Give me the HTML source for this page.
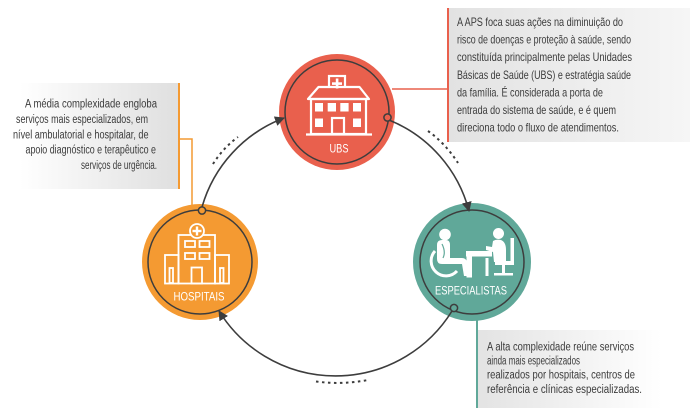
<!DOCTYPE html>
<html><head><meta charset="utf-8"><style>
html,body{margin:0;padding:0;background:#fff;}
svg{display:block;}
.t{font-family:"Liberation Sans Narrow","Liberation Sans",sans-serif;fill:#3b3b3b;}
.w{font-family:"Liberation Sans Narrow","Liberation Sans",sans-serif;fill:#fff;}
</style></head><body>
<svg width="690" height="415" viewBox="0 0 690 415" xmlns="http://www.w3.org/2000/svg">
<defs>
<linearGradient id="gTR" x1="0" y1="0" x2="1" y2="0"><stop offset="0" stop-color="#e2e2e2"/><stop offset="1" stop-color="#f6f6f6"/></linearGradient>
<linearGradient id="gL" x1="0" y1="0" x2="1" y2="0"><stop offset="0" stop-color="#ffffff"/><stop offset="1" stop-color="#dfdfdf"/></linearGradient>
<linearGradient id="gBR" x1="0" y1="0" x2="1" y2="0"><stop offset="0" stop-color="#e3e3e3"/><stop offset="1" stop-color="#ffffff"/></linearGradient>
<marker id="ah" viewBox="0 0 10 10" refX="9" refY="5" markerWidth="10" markerHeight="10" markerUnits="userSpaceOnUse" orient="auto"><path d="M0,0 L10,5 L0,10 z" fill="#3d3d3d"/></marker>
</defs>

<!-- text boxes -->
<rect x="448" y="8" width="242" height="134" fill="url(#gTR)"/>
<rect x="20" y="83" width="159" height="106" fill="url(#gL)"/>
<rect x="477" y="330" width="185" height="78" fill="url(#gBR)"/>

<!-- connectors to boxes -->
<line x1="392" y1="89" x2="448" y2="89" stroke="#e9604d" stroke-width="1.5"/>
<line x1="448" y1="8" x2="448" y2="142" stroke="#e9604d" stroke-width="2"/>
<line x1="179" y1="83" x2="179" y2="189" stroke="#f49a32" stroke-width="2"/>
<polyline points="179,139 192,139 192,206" fill="none" stroke="#f49a32" stroke-width="1.5"/>
<line x1="477" y1="314" x2="477" y2="408" stroke="#60a899" stroke-width="2"/>

<!-- node circles -->
<circle cx="337" cy="112" r="58" fill="#e9604d"/>
<circle cx="200" cy="262" r="58" fill="#f49a32"/>
<circle cx="472" cy="262" r="59" fill="#60a899"/>
<circle cx="337" cy="112" r="52" fill="none" stroke="#3d3d3d" stroke-width="1.5"/>
<circle cx="200" cy="262" r="52" fill="none" stroke="#3d3d3d" stroke-width="1.5"/>
<circle cx="472" cy="262" r="52" fill="none" stroke="#3d3d3d" stroke-width="1.5"/>

<!-- UBS icon -->
<g fill="none" stroke="#fff" stroke-width="2.2">
<rect x="329" y="76" width="16" height="15" fill="#e9604d"/>
<polygon points="318.5,87 359.5,87 369,99 308,99" fill="#e9604d" stroke-linejoin="round"/>
<rect x="311" y="99" width="55" height="35"/>
<rect x="332" y="118" width="12" height="16"/>
<line x1="306" y1="134.5" x2="372" y2="134.5"/>
</g>
<g fill="#fff">
<rect x="335.8" y="78.5" width="2.6" height="10"/><rect x="332" y="82.3" width="10" height="2.6"/>
<rect x="315" y="103" width="8" height="8.5"/><rect x="327.7" y="103" width="8.3" height="8.5"/>
<rect x="340.3" y="103" width="8.3" height="8.5"/><rect x="353" y="103" width="8" height="8.5"/>
<rect x="315" y="118.5" width="8" height="8.5"/><rect x="353" y="118.5" width="8" height="8.5"/>
</g>
<text class="w" x="339" y="152.5" font-size="11.5" text-anchor="middle" textLength="19" lengthAdjust="spacingAndGlyphs">UBS</text>

<!-- HOSPITAIS icon -->
<g fill="none" stroke="#fff" stroke-width="1.8">
<rect x="178.5" y="235" width="36.5" height="48.5"/>
<rect x="165" y="255" width="13.5" height="28.5"/>
<rect x="215" y="255" width="14" height="28.5"/>
<circle cx="197" cy="231" r="7" fill="#f49a32"/>
<rect x="185" y="241" width="10" height="6"/><rect x="199.5" y="241" width="10" height="6"/>
<rect x="185" y="253" width="10" height="6"/><rect x="199.5" y="253" width="10" height="6"/>
<rect x="191.5" y="267.5" width="10.5" height="16"/>
<rect x="169.5" y="268" width="3.5" height="15"/><rect x="220" y="268" width="3.5" height="15"/>
</g>
<g fill="#fff"><rect x="195.8" y="226.5" width="2.4" height="9"/><rect x="192.5" y="229.8" width="9" height="2.4"/></g>
<text class="w" x="199" y="300.5" font-size="12" text-anchor="middle" textLength="51" lengthAdjust="spacingAndGlyphs">HOSPITAIS</text>

<!-- ESPECIALISTAS icon -->
<g fill="#fff">
<circle cx="445" cy="234.5" r="5.8"/>
<path d="M437,245 Q437,240 442,240 L446,240 Q450,240 450,245 L450,258 L462,258 Q466,258 467,262 L469,276 L464,276 L462,264 L442,264 Q437,264 437,259 Z"/>
<rect x="466" y="251" width="26" height="5.5"/>
<rect x="466.5" y="256" width="5.5" height="21.5"/>
<circle cx="498.5" cy="233.5" r="5.5"/>
<path d="M493,241 Q496,239 501,240 Q506,242 506,250 L506,262 L494,262 L493,252 L486,250 L486,246 L492,247 Z"/>
<rect x="510.5" y="238" width="3.5" height="25"/>
<rect x="495" y="261" width="19" height="4"/>
<rect x="502" y="264" width="3" height="10"/>
<rect x="494" y="273" width="19" height="2.5"/>
<rect x="485.5" y="258" width="3" height="18"/>
</g>
<g fill="none" stroke="#fff" stroke-width="3">
<path d="M435,251 A14,14 0 1 0 457,271"/>
</g>
<path d="M442,244 Q446,252 443,258" fill="none" stroke="#60a899" stroke-width="1.2"/>
<text class="w" x="471" y="294.5" font-size="12" text-anchor="middle" textLength="72" lengthAdjust="spacingAndGlyphs">ESPECIALISTAS</text>

<!-- cycle arcs -->
<g fill="none" stroke="#3d3d3d" stroke-width="1.6">
<path d="M202,207 A135,135 0 0 1 284,118" marker-end="url(#ah)"/>
<path d="M389,120 A135,135 0 0 1 469,211" marker-end="url(#ah)"/>
<path d="M452,311 A137,137 0 0 1 219,311" marker-end="url(#ah)"/>
</g>
<g fill="none" stroke="#3d3d3d" stroke-width="2" stroke-dasharray="2.5 3.5">
<path d="M213,164 Q223,148 238,137"/>
<path d="M428,131 Q445,143 458,163"/>
<path d="M316,381.5 Q342,385 368,380"/>
</g>
<circle cx="202" cy="210.5" r="3.6" fill="#f49a32" stroke="#3d3d3d" stroke-width="1.5"/>
<circle cx="387.5" cy="117.5" r="3.6" fill="#e9604d" stroke="#3d3d3d" stroke-width="1.5"/>
<circle cx="454" cy="308" r="3.6" fill="#60a899" stroke="#3d3d3d" stroke-width="1.5"/>

<!-- top-right text -->
<g class="t" font-size="12">
<text x="457" y="26" textLength="166" lengthAdjust="spacingAndGlyphs">A APS foca suas ações na diminuição do</text>
<text x="457" y="43.6" textLength="174" lengthAdjust="spacingAndGlyphs">risco de doenças e proteção à saúde, sendo</text>
<text x="457" y="61.2" textLength="175" lengthAdjust="spacingAndGlyphs">constituída principalmente pelas Unidades</text>
<text x="457" y="78.8" textLength="174" lengthAdjust="spacingAndGlyphs">Básicas de Saúde (UBS) e estratégia saúde</text>
<text x="457" y="96.4" textLength="146" lengthAdjust="spacingAndGlyphs">da família. É considerada a porta de</text>
<text x="457" y="114" textLength="159" lengthAdjust="spacingAndGlyphs">entrada do sistema de saúde, e é quem</text>
<text x="457" y="131.6" textLength="162" lengthAdjust="spacingAndGlyphs">direciona todo o fluxo de atendimentos.</text>
</g>

<!-- left text -->
<g class="t" font-size="11.5">
<text x="25" y="107.5" textLength="132" lengthAdjust="spacingAndGlyphs">A média complexidade engloba</text>
<text x="16" y="123" textLength="132" lengthAdjust="spacingAndGlyphs">serviços mais especializados, em</text>
<text x="13" y="138.3" textLength="135.5" lengthAdjust="spacingAndGlyphs">nível ambulatorial e hospitalar, de</text>
<text x="25.5" y="153.5" textLength="130.5" lengthAdjust="spacingAndGlyphs">apoio diagnóstico e terapêutico e</text>
<text x="81" y="169" textLength="76" lengthAdjust="spacingAndGlyphs">serviços de urgência.</text>
</g>

<!-- bottom-right text -->
<g class="t" font-size="11.5">
<text x="487" y="350.3" textLength="147" lengthAdjust="spacingAndGlyphs">A alta complexidade reúne serviços</text>
<text x="487" y="364.3" textLength="93" lengthAdjust="spacingAndGlyphs">ainda mais especializados</text>
<text x="487" y="378.5" textLength="148" lengthAdjust="spacingAndGlyphs">realizados por hospitais, centros de</text>
<text x="487" y="392.8" textLength="155" lengthAdjust="spacingAndGlyphs">referência e clínicas especializadas.</text>
</g>
</svg>
</body></html>
